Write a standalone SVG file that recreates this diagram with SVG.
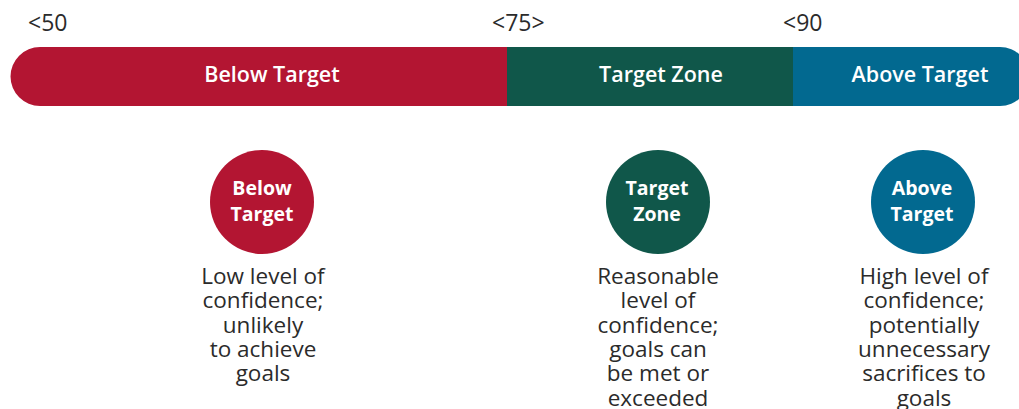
<svg xmlns="http://www.w3.org/2000/svg" width="1019" height="409" viewBox="0 0 1019 409">
<style>
.tick{font-family:"Open Sans","Noto Sans",sans-serif;font-size:23px;fill:#2b2b2b}
.bar{font-family:"Open Sans","Noto Sans",sans-serif;font-size:21.5px;font-weight:600;fill:#fff;text-anchor:middle}
.ct{font-family:"Open Sans","Noto Sans",sans-serif;font-size:19.5px;font-weight:700;fill:#fff;text-anchor:middle}
.desc{font-family:"Open Sans","Noto Sans",sans-serif;font-size:22.5px;fill:#2b2b2b;text-anchor:middle}
</style>
<rect width="1019" height="409" fill="#fff"/>
<g id="bar">
<path d="M40 47 H507 V106 H40 A29.5 29.5 0 0 1 40 47 Z" fill="#B31532"/>
<rect x="507" y="47" width="286" height="59" fill="#10574A"/>
<path d="M793 47 H1000 A29.5 29.5 0 0 1 1000 106 H793 Z" fill="#026990"/>
<text class="bar" x="272" y="82">Below Target</text>
<text class="bar" x="661" y="82">Target Zone</text>
<text class="bar" x="920" y="82">Above Target</text>
</g>
<g id="ticks">
<text class="tick" x="28" y="31">&lt;50</text>
<text class="tick" x="492" y="31">&lt;75&gt;</text>
<text class="tick" x="783" y="31">&lt;90</text>
</g>
<g id="below">
<circle cx="262" cy="202" r="52" fill="#B31532"/>
<text class="ct" x="262" y="195">Below</text>
<text class="ct" x="262" y="221">Target</text>
<text class="desc" x="263" y="284"><tspan x="263">Low level of</tspan><tspan x="263" dy="24.3">confidence;</tspan><tspan x="263" dy="24.3">unlikely</tspan><tspan x="263" dy="24.3">to achieve</tspan><tspan x="263" dy="24.3">goals</tspan></text>
</g>
<g id="target">
<circle cx="658" cy="202" r="52" fill="#10574A"/>
<text class="ct" x="657" y="195">Target</text>
<text class="ct" x="657" y="221">Zone</text>
<text class="desc" x="658" y="284"><tspan x="658">Reasonable</tspan><tspan x="658" dy="24.3">level of</tspan><tspan x="658" dy="24.3">confidence;</tspan><tspan x="658" dy="24.3">goals can</tspan><tspan x="658" dy="24.3">be met or</tspan><tspan x="658" dy="24.3">exceeded</tspan></text>
</g>
<g id="above">
<circle cx="923" cy="202" r="52" fill="#026990"/>
<text class="ct" x="922" y="195">Above</text>
<text class="ct" x="922" y="221">Target</text>
<text class="desc" x="924" y="284"><tspan x="924">High level of</tspan><tspan x="924" dy="24.3">confidence;</tspan><tspan x="924" dy="24.3">potentially</tspan><tspan x="924" dy="24.3">unnecessary</tspan><tspan x="924" dy="24.3">sacrifices to</tspan><tspan x="924" dy="24.3">goals</tspan></text>
</g>
</svg>
